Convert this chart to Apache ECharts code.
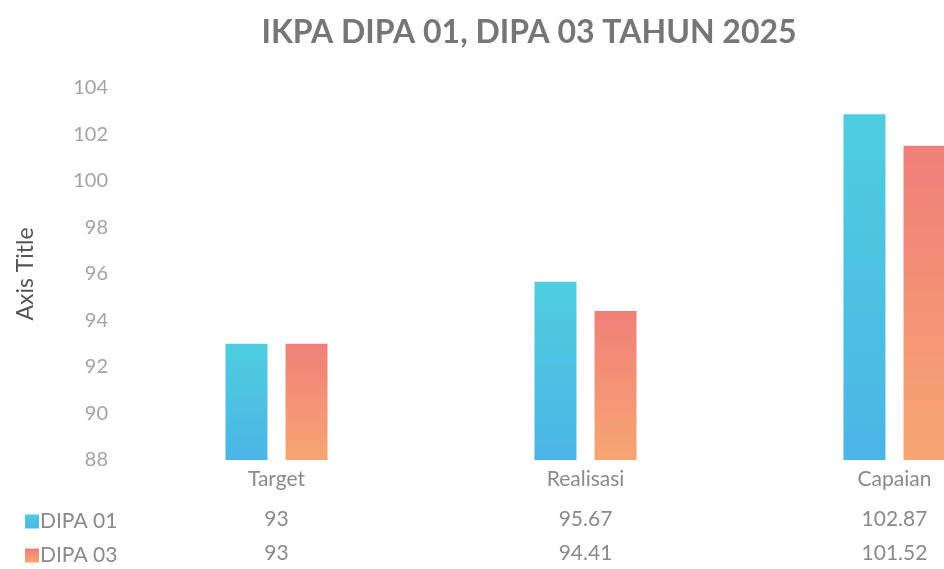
<!DOCTYPE html>
<html>
<head>
<meta charset="utf-8">
<script src="https://cdn.jsdelivr.net/npm/echarts@6/dist/echarts.min.js"></script>
<style>
  html, body { margin: 0; padding: 0; background: #ffffff; }
  #chart { width: 944px; height: 569px; }
</style>
</head>
<body>
<div id="chart"></div>
<script>
const categories = ["Target", "Realisasi", "Capaian"];
const dipa01 = [93, 95.67, 102.87];
const dipa03 = [93, 94.41, 101.52];
const seriesNames = ["DIPA 01", "DIPA 03"];

const chart = echarts.init(document.getElementById("chart"));

// warna gradien batang
const grad01 = new echarts.graphic.LinearGradient(0, 0, 0, 1, [
  { offset: 0, color: "#4fcde0" },
  { offset: 1, color: "#4bb5e6" },
]);
const grad03 = new echarts.graphic.LinearGradient(0, 0, 0, 1, [
  { offset: 0, color: "#f07f78" },
  { offset: 1, color: "#f6a672" },
]);

const font = "Lato";

// sumbu x tambahan untuk tabel data di bawah grafik
const tableAxis = (values, offset) => ({
  type: "category",
  position: "bottom",
  offset: offset,
  data: values.map(String),
  axisLine: { show: false },
  axisTick: { show: false },
  axisLabel: { color: "#8a8a8a", fontSize: 21, fontFamily: font },
});

// satu legend per baris tabel
const legendRow = (name, top) => ({
  left: 20,
  top: top,
  itemWidth: 14,
  itemHeight: 14,
  icon: "rect",
  textStyle: { color: "#8a8a8a", fontSize: 21, fontFamily: font, padding: [0, 0, 0, -4] },
  data: [name],
});

const option = {
  backgroundColor: "#ffffff",
  title: {
    text: "IKPA DIPA 01, DIPA 03 TAHUN 2025",
    left: 524,
    top: 12,
    textAlign: "center",
    textStyle: { color: "#767676", fontSize: 32, fontWeight: "bold", fontFamily: font },
  },
  legend: [legendRow(seriesNames[0], 506), legendRow(seriesNames[1], 540)],
  grid: { left: 122, top: 88, width: 927, height: 372, outerBoundsMode: "none" },
  xAxis: [
    {
      type: "category",
      data: categories,
      axisLine: { show: false },
      axisTick: { show: false },
      axisLabel: { color: "#8a8a8a", fontSize: 21, fontFamily: font, margin: 9 },
    },
    tableAxis(dipa01, 41),
    tableAxis(dipa03, 75),
  ],
  yAxis: {
    type: "value",
    min: 88,
    max: 104,
    interval: 2,
    name: "Axis Title",
    nameLocation: "middle",
    nameGap: 85,
    nameTextStyle: { color: "#555555", fontSize: 23, fontFamily: font },
    axisLine: { show: false },
    axisTick: { show: false },
    splitLine: { show: false },
    axisLabel: { color: "#a3a3a3", fontSize: 20, fontFamily: font, margin: 14 },
  },
  series: [
    {
      name: seriesNames[0],
      type: "bar",
      data: dipa01,
      barWidth: 42,
      barGap: "43%",
      itemStyle: { color: grad01 },
    },
    {
      name: seriesNames[1],
      type: "bar",
      data: dipa03,
      barWidth: 42,
      itemStyle: { color: grad03 },
    },
  ],
};

chart.setOption(option);
</script>
</body>
</html>
